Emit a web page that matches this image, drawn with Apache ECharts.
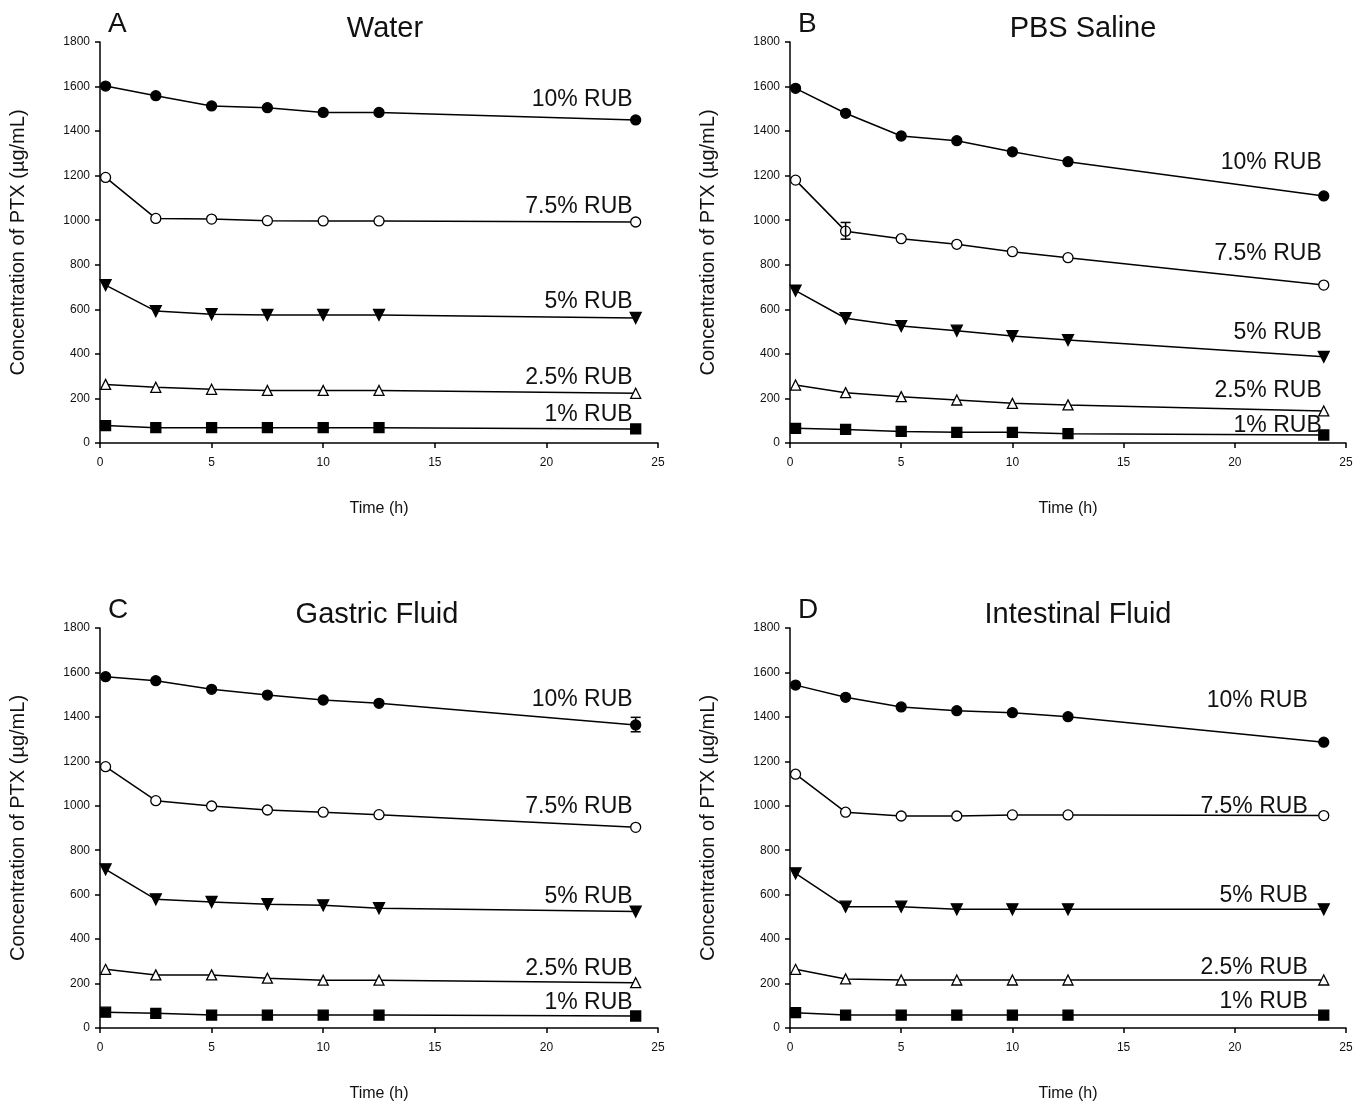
<!DOCTYPE html>
<html>
<head>
<meta charset="utf-8">
<script src="https://cdn.jsdelivr.net/npm/echarts@6/dist/echarts.min.js"></script>
<style>
  html, body { margin: 0; padding: 0; background: #fff; }
  #chart { width: 1368px; height: 1104px; }
</style>
</head>
<body>
<div id="chart"></div>
<script>
// sampling times (h)
var hours = [0.25, 2.5, 5, 7.5, 10, 12.5, 24];
var groups = ['10% RUB', '7.5% RUB', '5% RUB', '2.5% RUB', '1% RUB'];
var yTicks = [0, 1800, 200];
var xTicks = [0, 25, 5];

// A - water
var water10 = [1602, 1559, 1513, 1505, 1484, 1484, 1450];
var water75 = [1192, 1008, 1005, 998, 997, 997, 992];
var water5  = [709, 592, 578, 575, 575, 575, 561];
var water25 = [263, 250, 241, 236, 236, 236, 223];
var water1  = [78, 69, 69, 69, 69, 69, 63];
// B - PBS saline
var pbs10 = [1592, 1480, 1378, 1357, 1307, 1263, 1109];
var pbs75 = [1180, 951, 917, 892, 859, 832, 709];
var pbs5  = [684, 560, 525, 504, 480, 462, 387];
var pbs25 = [260, 226, 208, 193, 178, 171, 144];
var pbs1  = [66, 61, 52, 48, 48, 42, 36];
// C - gastric fluid
var gas10 = [1581, 1563, 1524, 1498, 1476, 1461, 1364];
var gas75 = [1176, 1023, 999, 981, 971, 960, 903];
var gas5  = [714, 579, 567, 557, 552, 539, 524];
var gas25 = [264, 239, 239, 224, 215, 215, 204];
var gas1  = [71, 66, 58, 58, 58, 58, 54];
// D - intestinal fluid
var int10 = [1543, 1488, 1445, 1428, 1419, 1401, 1286];
var int75 = [1142, 971, 954, 954, 959, 959, 956];
var int5  = [696, 546, 546, 534, 534, 534, 534];
var int25 = [264, 221, 216, 216, 216, 216, 216];
var int1  = [69, 58, 58, 58, 58, 58, 58];

// visible error bars [time, low, high]
var pbsErr = [[2.5, 915, 990]];
var gasErr = [[24, 1333, 1398]];

var panels = [
  {letter: 'A', name: 'Water', sets: [water10, water75, water5, water25, water1], err: [],
   grid: {left: 100, top: 42, width: 558, height: 401}, titleX: 380,
   lab: [[-3, -20], [-3, -15], [-3, -16], [-3, -16], [-3, -14]]},
  {letter: 'B', name: 'PBS Saline', sets: [pbs10, pbs75, pbs5, pbs25, pbs1], err: pbsErr,
   grid: {left: 790, top: 42, width: 556, height: 401}, titleX: 1078,
   lab: [[-2, -33], [-2, -31], [-2, -24], [-2, -20], [-2, -9]]},
  {letter: 'C', name: 'Gastric Fluid', sets: [gas10, gas75, gas5, gas25, gas1], err: gasErr,
   grid: {left: 100, top: 628, width: 558, height: 400}, titleX: 372,
   lab: [[-3, -25], [-3, -21], [-3, -15], [-3, -14], [-3, -13]]},
  {letter: 'D', name: 'Intestinal Fluid', sets: [int10, int75, int5, int25, int1], err: [],
   grid: {left: 790, top: 628, width: 556, height: 400}, titleX: 1073,
   lab: [[-16, -42], [-16, -9], [-16, -14], [-16, -12], [-16, -13]]}
];

// marker per concentration
var marks = [
  {symbol: 'circle', fill: '#000', rot: 0, size: 10},
  {symbol: 'circle', fill: '#fff', rot: 0, size: 10},
  {symbol: 'triangle', fill: '#000', rot: 180, size: 11},
  {symbol: 'triangle', fill: '#fff', rot: 0, size: 10},
  {symbol: 'rect', fill: '#000', rot: 0, size: 10}
];

var narrow = '"Liberation Sans Narrow", "Arial Narrow", Arial, sans-serif';
var sans = '"Liberation Sans", Arial, sans-serif';

var grids = [], xAxes = [], yAxes = [], series = [], titles = [];

panels.forEach(function (p, k) {
  grids.push(p.grid);
  titles.push({
    text: p.letter, left: p.grid.left + 3, top: p.grid.top - 37,
    textStyle: {fontFamily: sans, fontSize: 28, fontWeight: 'normal', color: '#111'}
  });
  titles.push({
    text: p.name, left: p.titleX, top: p.grid.top - 33, textAlign: 'center',
    textStyle: {fontFamily: sans, fontSize: 29, fontWeight: 'normal', color: '#111'}
  });
  xAxes.push({
    gridIndex: k, type: 'value', min: xTicks[0], max: xTicks[1], interval: xTicks[2],
    name: 'Time (h)', nameLocation: 'middle', nameGap: 58,
    nameTextStyle: {fontFamily: narrow, fontSize: 16, color: '#111'},
    axisLine: {onZero: false, lineStyle: {color: '#000', width: 1.5}},
    axisTick: {length: 5, lineStyle: {color: '#000', width: 1.5}},
    axisLabel: {fontFamily: narrow, fontSize: 12, color: '#111', margin: 14},
    splitLine: {show: false}
  });
  yAxes.push({
    gridIndex: k, type: 'value', min: yTicks[0], max: yTicks[1], interval: yTicks[2],
    name: 'Concentration of PTX (\u00b5g/mL)', nameLocation: 'middle', nameGap: 72,
    nameTextStyle: {fontFamily: sans, fontSize: 20, color: '#111'},
    axisLine: {show: true, lineStyle: {color: '#000', width: 1.5}},
    axisTick: {show: true, length: 5, lineStyle: {color: '#000', width: 1.5}},
    axisLabel: {fontFamily: narrow, fontSize: 12, color: '#111', margin: 10,
      formatter: function (v) { return String(v); }},
    splitLine: {show: false}
  });

  p.sets.forEach(function (vals, i) {
    var m = marks[i];
    var data = vals.map(function (v, j) {
      var item = {value: [hours[j], v]};
      if (j === vals.length - 1) {
        item.label = {
          show: true, formatter: groups[i], position: 'inside',
          align: 'right', verticalAlign: 'middle', offset: p.lab[i],
          fontFamily: sans, fontSize: 23, color: '#111'
        };
      }
      return item;
    });
    series.push({
      name: groups[i], type: 'line', xAxisIndex: k, yAxisIndex: k,
      data: data, symbol: m.symbol, symbolSize: m.size, symbolRotate: m.rot,
      lineStyle: {color: '#000', width: 1.5},
      itemStyle: {color: m.fill, borderColor: '#000', borderWidth: 1.3},
      label: {show: false}, animation: false, z: 3 + i
    });
  });

  if (p.err.length) {
    series.push({
      type: 'custom', xAxisIndex: k, yAxisIndex: k, data: p.err, z: 10, animation: false,
      renderItem: function (params, api) {
        var lo = api.coord([api.value(0), api.value(1)]);
        var hi = api.coord([api.value(0), api.value(2)]);
        var st = {stroke: '#000', lineWidth: 1.5};
        return {type: 'group', children: [
          {type: 'line', shape: {x1: lo[0], y1: lo[1], x2: hi[0], y2: hi[1]}, style: st},
          {type: 'line', shape: {x1: lo[0] - 5, y1: lo[1], x2: lo[0] + 5, y2: lo[1]}, style: st},
          {type: 'line', shape: {x1: hi[0] - 5, y1: hi[1], x2: hi[0] + 5, y2: hi[1]}, style: st}
        ]};
      }
    });
  }
});

var chart = echarts.init(document.getElementById('chart'));
chart.setOption({
  backgroundColor: '#fff',
  animation: false,
  title: titles,
  grid: grids,
  xAxis: xAxes,
  yAxis: yAxes,
  series: series
});
</script>
</body>
</html>
